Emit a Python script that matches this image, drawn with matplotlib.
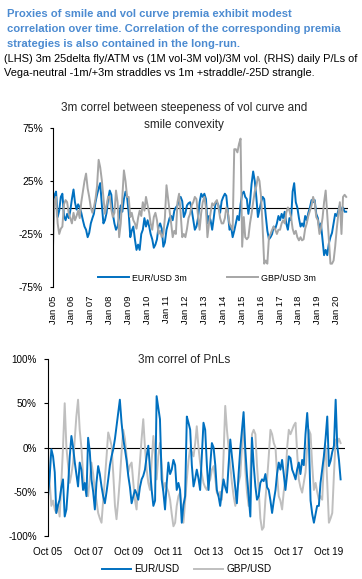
import matplotlib
matplotlib.use("Agg")
import matplotlib.pyplot as plt
import matplotlib.dates as mdates
import pandas as pd

plt.rcParams["font.family"] = ["Liberation Sans", "DejaVu Sans"]

# ---- data (values in %) ----
# top panel: monthly, Jan 2005 .. Jul 2020
top_eur = [
    5, 12, 15, -9, -3, 10, 13, -8, -12, -6, -10, -3,          # 2005
    8, 17, 5, -2, 3, 0, -5, -12, -18, -21, -28, -24,          # 2006
    -15, -10, -6, 5, 12, 18, 23, 3, -15, -12, -5, 8,          # 2007
    16, 12, -6, -15, -21, -18, -9, 2, -4, 8, 15, 10,          # 2008
    -5, -28, -22, -18, -30, -40, -35, -40, -25, -21, -10, -18,  # 2009
    -12, -18, -25, -30, -38, -35, -30, -18, -15, -20, -37, -33,  # 2010
    -21, -15, -10, -8, -12, -3, 0, 2, 8, 10, 6, -9,           # 2011
    -5, 2, 4, 5, -2, -12, -21, -18, -10, 5, 13, 10,           # 2012
    13, 8, -15, -8, -12, -21, -10, 3, 5, 2, -5, 6,            # 2013
    10, 13, 11, -5, -21, -18, -28, -22, -15, -8, -12, 3,      # 2014
    13, 15, 10, 8, -6, 5, 22, 34, 25, 10, -9, -2,             # 2015
    5, 10, 8, -8, -22, -30, -28, -25, -18, -20, -15, -8,      # 2016
    -12, -6, -10, -4, -15, -21, -10, -12, 15, 23, 5, 0,       # 2017
    -10, -18, -15, -18, -8, -12, -5, 0, 7, 5, 7, -6,          # 2018
    -10, -21, -15, -30, -45, -40, -45, -34, -28, -24, -15, -6,  # 2019
    -8, -3, 2, -3, 0, -4, -4,                                 # 2020
]
top_gbp = [
    -37, 5, 10, -15, -25, -20, -18, 3, 7, 5, -6, -10,         # 2005
    -15, -5, -12, -8, -3, -10, 5, 15, 25, 32, 18, 10,         # 2006
    0, -5, 0, 8, 20, 45, 38, 26, 10, -6, 2, 10,               # 2007
    10, -2, -9, -5, 16, 5, -28, -15, 10, 35, 25, 10,          # 2008
    10, -9, -5, -12, -15, -20, -10, -3, -8, 5, -3, 10,        # 2009
    2, -5, -15, -21, -9, -5, -12, -25, -22, -28, -25, -10,    # 2010
    21, 8, -3, -15, -28, -22, -25, 5, 13, -5, -28, -25,       # 2011
    -28, -20, -10, -6, 2, 5, 10, 8, -8, -21, -5, 5,           # 2012
    10, 0, -28, -15, -5, 4, 2, 5, 7, 0, -10, -15,             # 2013
    -15, -10, 0, -5, -15, -18, -21, 55, 55, 52, 60, 65,       # 2014
    -37, -9, -28, -30, -28, -15, -6, 5, 15, 20, 29, 25,       # 2015
    10, -20, -53, -50, -53, -28, -25, -21, -18, -21, -25, -21,  # 2016
    -21, -15, -12, -15, -5, 0, -3, -9, -20, -25, -22, -28,    # 2017
    -31, -28, -31, -30, -20, -15, -8, -3, 2, 10, 5, -9,       # 2018
    -12, -25, -20, -10, 5, 16, -6, -30, -53, -53, -50, -37,   # 2019
    -20, -6, 5, -25, 10, 12, 10,                              # 2020
]

# bottom panel: monthly, Oct 2005 .. May 2020
pnl_eur = [
    -55, -32, -2,                                             # 2005 Oct-Dec
    -10, -28, -74, -65, -59, -45, -36, -78, -70, -44, -10, 13,  # 2006
    0, -17, -30, -44, -17, -25, -48, -40, -55, 11, -5, -36,   # 2007
    -50, -70, -40, -21, -30, -44, -55, -63, -50, -36, -20, -10,  # 2008
    -2, 10, 24, 40, 54, 28, 10, -2, -15, -32, -45, -63,       # 2009
    -55, -48, -52, -59, -45, -36, -32, -25, -10, 2, -25, -48,  # 2010
    -66, -60, 58, 45, 32, -36, -50, -70, -40, -17, -30, -25,  # 2011
    -14, -20, -48, -40, -48, -85, -65, -55, 35, 28, 20, -20,  # 2012
    -44, -35, -25, -35, -48, -10, 28, 20, -20, -48, -20, 5,   # 2013
    0, -20, -48, -55, -66, -50, -36, -45, -51, -20, 9, -10,   # 2014
    -28, -45, -63, -30, -2, 20, 40, -2, -32, -55, -78, 11,    # 2015
    -20, -44, -59, -55, -40, -36, -38, -30, -45, -48, -60, -74,  # 2016
    -60, -48, -30, -17, -25, -14, -30, -48, -30, -10, -12, -25,  # 2017
    -30, -36, -25, -17, -30, -14, -20, 15, 39, 9, -60, -75,   # 2018
    -85, -75, -66, -66, -40, -25, -10, 10, 35, -21, -15, -5,  # 2019
    2, 54, 2, -14, -36,                                       # 2020
]
pnl_gbp = [
    0, -40, -66,                                              # 2005 Oct-Dec
    -60, -70, -74, -65, -78, -40, 0, 50, 0, -20, -40, -30,    # 2006
    -17, 10, 35, 54, 20, 0, -30, -48, -45, -55, -35, -17,     # 2007
    -30, -48, -60, -74, -80, -85, -60, -36, -10, 17, 10, 2,   # 2008
    -30, -66, -81, -60, -36, -5, 20, 10, -10, -28, -20, -17,  # 2009
    -40, -60, -70, -40, -17, 10, 32, 0, -25, -40, -48, -15,   # 2010
    13, -10, -36, -10, 5, -20, -48, -40, -45, -50, -59, -75,  # 2011
    -89, -85, -66, -55, -51, -70, -85, -60, -36, -15, 0, -5,  # 2012
    -10, 5, 24, 0, -17, -30, -40, -45, -48, -40, -36, -25,    # 2013
    -21, -35, -51, -55, -50, -59, -10, 47, 20, 0, -20, -40,   # 2014
    -55, -66, -50, -40, -32, 0, 32, -25, -51, -66, -30, 15,   # 2015
    20, 15, -20, -48, -80, -93, -90, -59, -36, -10, 20, 15,   # 2016
    5, 0, -30, -55, -60, -70, -50, -36, 0, 20, 15, 20,        # 2017
    25, 28, -5, -36, -45, -51, -40, -28, 0, 20, 15, -20,      # 2018
    -48, -40, -50, -59, -55, -59, -17, 2, -40, -85, -80, -74,  # 2019
    -30, 9, 5, 10, 5,                                         # 2020
]

top_ticks = [-75, -25, 25, 75]
top_ticklabels = ["-75%", "-25%", "25%", "75%"]
bot_ticks = [-100, -50, 0, 50, 100]
bot_ticklabels = ["-100%", "-50%", "0%", "50%", "100%"]
bot_xticks = ["2005-10-01", "2007-10-01", "2009-10-01", "2011-10-01",
              "2013-10-01", "2015-10-01", "2017-10-01", "2019-10-01"]
bot_xticklabels = ["Oct 05", "Oct 07", "Oct 09", "Oct 11",
                   "Oct 13", "Oct 15", "Oct 17", "Oct 19"]

header_bold = [
    "Proxies of smile and vol curve premia exhibit modest",
    "correlation over time. Correlation of the corresponding premia",
    "strategies is also contained in the long-run.",
]
header_plain = [
    "(LHS) 3m 25delta fly/ATM vs (1M vol-3M vol)/3M vol. (RHS) daily P/Ls of",
    "Vega-neutral -1m/+3m straddles vs 1m +straddle/-25D strangle.",
]
top_title = ["3m correl between steepeness of vol curve and", "smile convexity"]
bot_title = "3m correl of PnLs"

BLUE = "#0070C0"
GREY_TOP = "#A6A6A6"
GREY_BOT = "#BFBFBF"
HEAD = "#4C8BD1"

W, H = 362, 579
fig = plt.figure(figsize=(W / 100, H / 100), dpi=100)


def fy(px):
    return 1 - px / H


# header text
for line, y in zip(header_bold, [16.7, 32.3, 47.0]):
    fig.text(7 / W, fy(y), line, color=HEAD, fontsize=8.1, fontweight="bold",
             ha="left", va="baseline")
for line, y in zip(header_plain, [61.7, 76.0]):
    fig.text(4 / W, fy(y), line, color="black", fontsize=7.9,
             ha="left", va="baseline")

# ---- top panel ----
top_dates = pd.date_range("2005-01-01", periods=len(top_eur), freq="MS")
ax1 = fig.add_axes([53 / W, fy(287), 295 / W, (287 - 128) / H])
ax1.plot(top_dates, top_eur, color=BLUE, lw=1.4, label="EUR/USD 3m")
ax1.plot(top_dates, top_gbp, color=GREY_TOP, lw=1.4, label="GBP/USD 3m")
ax1.axhline(0, color="black", lw=0.8, zorder=1)
ax1.set_ylim(-75, 75)
ax1.set_xlim(pd.Timestamp("2005-01-01"), pd.Timestamp("2020-08-05"))
ax1.set_yticks(top_ticks, top_ticklabels)
ax1.xaxis.set_major_locator(mdates.YearLocator(1, month=1, day=1))
ax1.xaxis.set_major_formatter(mdates.DateFormatter("Jan %y"))
for s in ["top", "right", "bottom"]:
    ax1.spines[s].set_visible(False)
ax1.spines["left"].set_linewidth(0.8)
ax1.tick_params(axis="y", length=2.2, width=0.8, pad=5, labelsize=7.5)
ax1.tick_params(axis="x", length=0, pad=6, labelsize=6.8, labelrotation=90)
for line, y in zip(top_title, [111, 127.7]):
    fig.text(184 / W, fy(y), line, fontsize=8.5,
             ha="center", va="baseline", color="#262626")
fig.legend(handles=ax1.get_lines()[:2], loc="center",
           bbox_to_anchor=(207 / W, fy(278)), ncol=2, frameon=False,
           fontsize=6.4, handlelength=3.4, handletextpad=0.35,
           columnspacing=4.6, borderaxespad=0, borderpad=0)

# ---- bottom panel ----
bot_dates = pd.date_range("2005-10-01", periods=len(pnl_eur), freq="MS")
ax2 = fig.add_axes([48 / W, fy(536), 297 / W, (536 - 359) / H])
ax2.plot(bot_dates, pnl_gbp, color=GREY_BOT, lw=1.4, label="GBP/USD")
ax2.plot(bot_dates, pnl_eur, color=BLUE, lw=1.4, label="EUR/USD")
ax2.axhline(0, color="black", lw=0.8, zorder=1)
ax2.set_ylim(-100, 100)
ax2.set_xlim(pd.Timestamp("2005-10-01"), pd.Timestamp("2020-07-20"))
ax2.set_yticks(bot_ticks, bot_ticklabels)
ax2.set_xticks(pd.to_datetime(bot_xticks), bot_xticklabels)
for s in ["top", "right", "bottom"]:
    ax2.spines[s].set_visible(False)
ax2.spines["left"].set_linewidth(0.8)
ax2.tick_params(axis="y", length=3, width=0.8, pad=5, labelsize=7.1)
ax2.tick_params(axis="x", length=0, pad=8, labelsize=7.1)
fig.text(184 / W, fy(362.7), bot_title, fontsize=8.5,
         ha="center", va="baseline", color="#262626")
l = ax2.get_lines()
fig.legend(handles=[l[1], l[0]], loc="center",
           bbox_to_anchor=(187 / W, fy(569)), ncol=2, frameon=False,
           fontsize=7.2, handlelength=2.9, handletextpad=0.35,
           columnspacing=1.5, borderaxespad=0, borderpad=0)

fig.savefig("out.png", dpi=100)
